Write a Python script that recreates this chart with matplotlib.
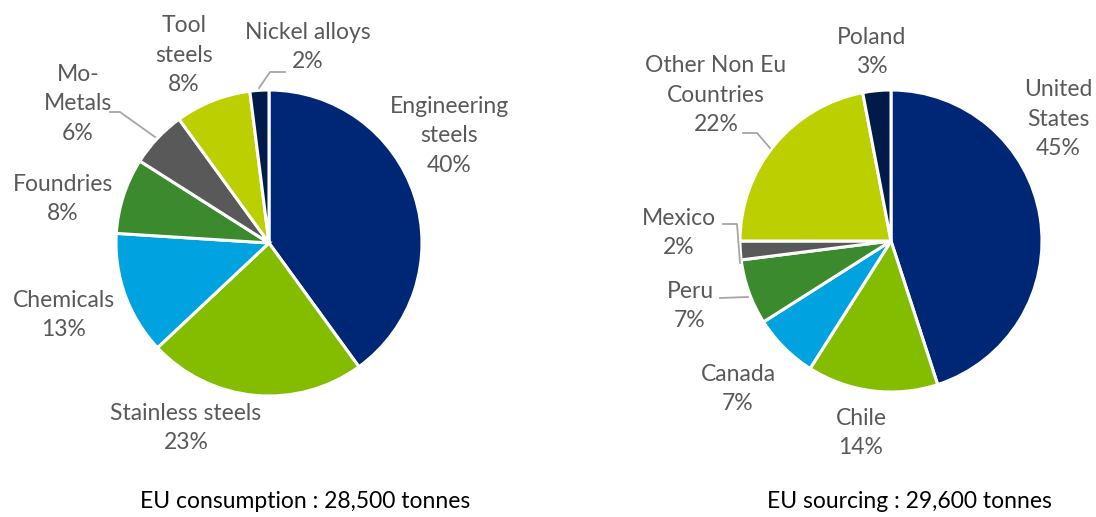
import matplotlib.pyplot as plt

# EU consumption by end use (%)
use_labels = ["Engineering\nsteels", "Stainless steels", "Chemicals", "Foundries",
              "Mo-\nMetals", "Tool\nsteels", "Nickel alloys"]
use_share = [40, 23, 13, 8, 6, 8, 2]

# EU sourcing by origin (%)
src_labels = ["United\nStates", "Chile", "Canada", "Peru", "Mexico",
              "Other Non Eu\nCountries", "Poland"]
src_share = [45, 14, 7, 7, 2, 22, 3]

colors = ["#002776", "#84BD00", "#00A3E0", "#3C8A2E", "#595959", "#BCCF00", "#001A4A"]

W, H = 1096, 517
plt.rcParams['font.family'] = ['Lato', 'DejaVu Sans']
fig = plt.figure(figsize=(W / 100, H / 100), dpi=100)
ax = fig.add_axes([0, 0, 1, 1])


def py(y):
    # pixel row -> data y
    return H - y


wp = dict(edgecolor="white", linewidth=2.2)
ax.pie(use_share, colors=colors, startangle=90, counterclock=False,
       center=(269, py(243)), radius=153, wedgeprops=wp, frame=True)
ax.pie(src_share, colors=colors, startangle=90, counterclock=False,
       center=(891, py(241)), radius=151, wedgeprops=wp, frame=True)

# label anchor points (pixel coords)
use_pos = [(449, 136), (186, 428), (64, 315), (63, 199), (78, 104), (184, 55), (308, 47)]
src_pos = [(1058, 119), (861, 433), (738, 389), (690, 306), (679, 233), (716, 95), (872, 52)]

txt = dict(ha="center", va="center", fontsize=16.5, color="#595959", linespacing=1.5)
for lab, v, (x, y) in zip(use_labels, use_share, use_pos):
    ax.text(x, py(y), f"{lab}\n{v}%", **txt)
for lab, v, (x, y) in zip(src_labels, src_share, src_pos):
    ax.text(x, py(y), f"{lab}\n{v}%", **txt)

# leader lines
leaders = [
    [(110, 112), (120, 112), (155, 137)],
    [(285, 72), (270, 72), (259, 88)],
    [(743, 133), (757, 133), (770, 148)],
    [(723, 224), (737, 224), (740, 263)],
    [(720, 298), (748, 297)],
]
for pts in leaders:
    ax.plot([p[0] for p in pts], [py(p[1]) for p in pts], color="#A6A6A6", lw=1.3)

ax.text(305, py(502), "EU consumption : 28,500 tonnes", ha="center", va="center",
        fontsize=16.5, color="black")
ax.text(909, py(502), "EU sourcing : 29,600 tonnes", ha="center", va="center",
        fontsize=16.5, color="black")

ax.set_xlim(0, W)
ax.set_ylim(0, H)
ax.set_aspect("auto")
ax.axis("off")
fig.savefig("out.png", dpi=100, facecolor="white")
